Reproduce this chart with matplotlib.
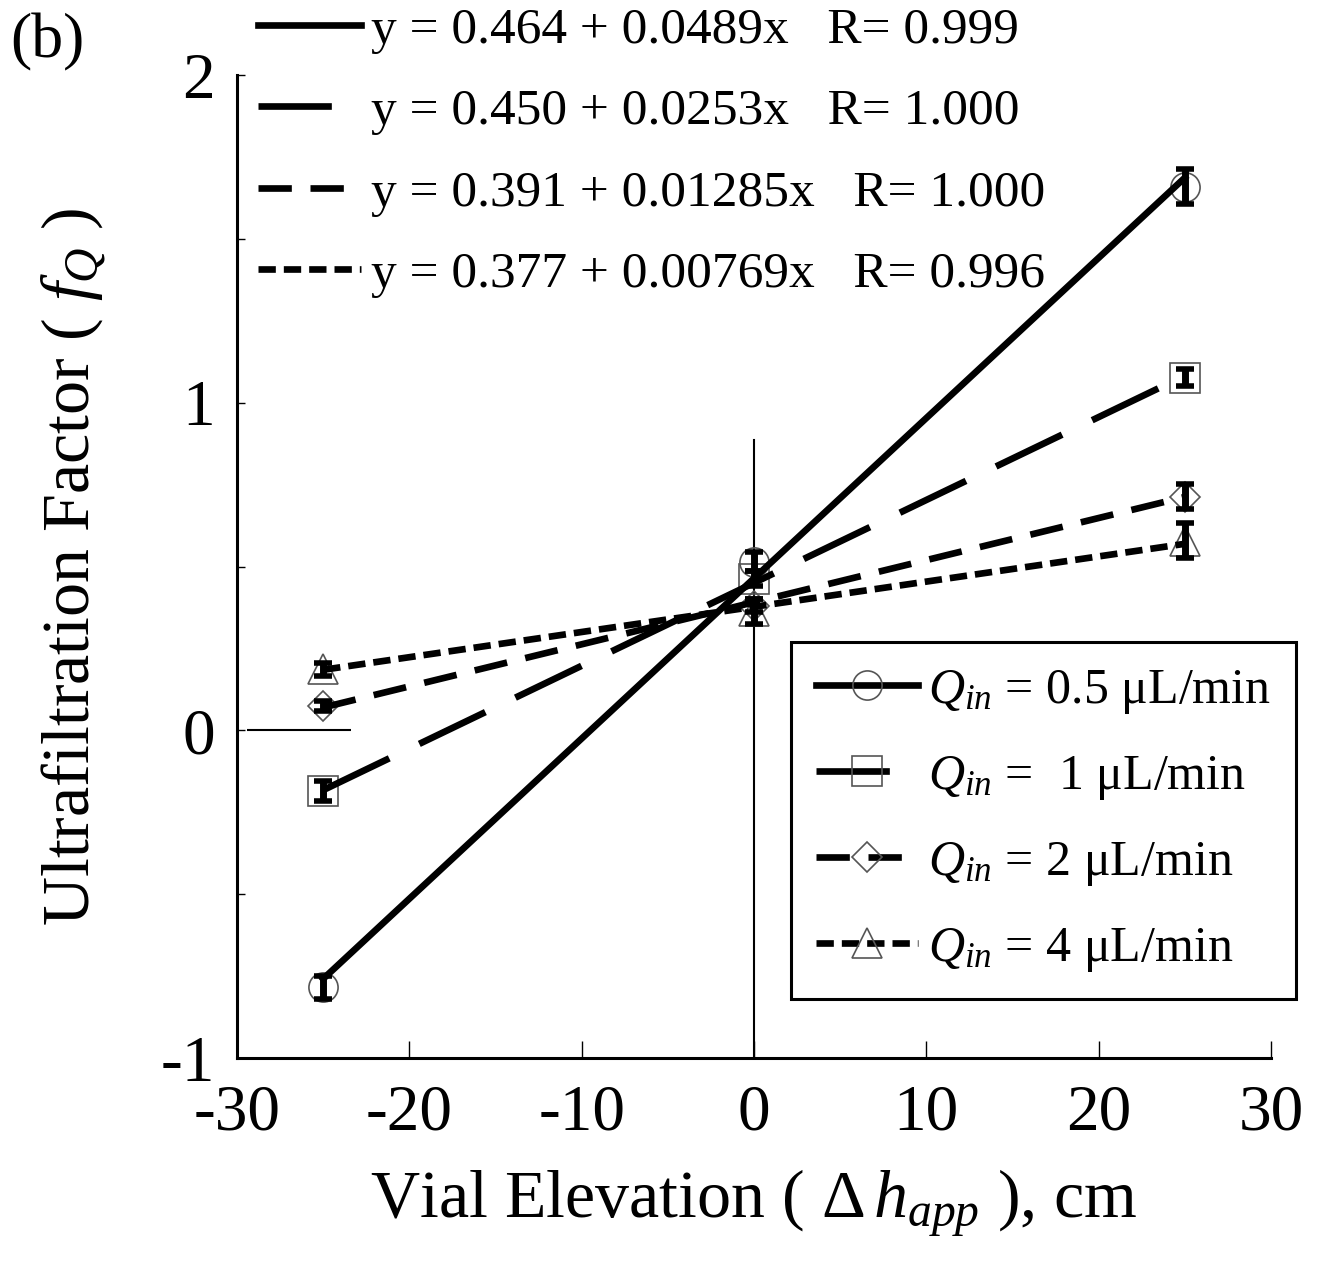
import matplotlib
matplotlib.use("Agg")
import matplotlib.pyplot as plt
from matplotlib.lines import Line2D
import numpy as np

plt.rcParams['font.family'] = ['Liberation Serif', 'DejaVu Serif']
plt.rcParams['mathtext.fontset'] = 'custom'
plt.rcParams['mathtext.rm'] = 'Liberation Serif'
plt.rcParams['mathtext.it'] = 'Liberation Serif:italic'
plt.rcParams['mathtext.bf'] = 'Liberation Serif:bold'
plt.rcParams['axes.unicode_minus'] = False

# Vial elevation (cm) and measured ultrafiltration factors
elevation = [-25, 0, 25]
fq_05 = [-0.784, 0.515, 1.659]
fq_1 = [-0.186, 0.463, 1.076]
fq_2 = [0.073, 0.380, 0.713]
fq_4 = [0.186, 0.363, 0.579]
err_05 = [0.035, 0.030, 0.053]
err_1 = [0.030, 0.022, 0.026]
err_2 = [0.015, 0.020, 0.038]
err_4 = [0.020, 0.038, 0.053]

# Linear fits
intercepts = [0.464, 0.450, 0.391, 0.377]
slopes = [0.0489, 0.0253, 0.01285, 0.00769]
r_values = [0.999, 1.000, 1.000, 0.996]

flow_rates = ['0.5', ' 1', '2', '4']

series = [fq_05, fq_1, fq_2, fq_4]
errors = [err_05, err_1, err_2, err_4]
markers = ['o', 's', 'D', '^']
marker_sizes = [21, 21, 15, 21]
line_styles = ['-', (0, (11, 5)), (0, (5, 2.8)), (0, (2.6, 1.2))]
LW = 4.8

fig = plt.figure(figsize=(13.31, 12.62), dpi=100)
ax = fig.add_axes([237 / 1331, 1 - 1058 / 1262, (1271 - 237) / 1331, (1058 - 75) / 1262])
ax.set_xlim(-30, 30)
ax.set_ylim(-1, 2)
for s in ['top', 'right']:
    ax.spines[s].set_visible(False)
for s in ['left', 'bottom']:
    ax.spines[s].set_linewidth(2.2)

# zero reference lines
ax.axvline(0, ymin=0, ymax=(0.885 + 1) / 3, color='black', lw=1.5, zorder=1)
ax.hlines(0, -29.4, -23.4, color='black', lw=1.5, zorder=1)

xfit = np.array([elevation[0], elevation[-1]], dtype=float)
for vals, err, m, ms, ls, a, b in zip(series, errors, markers, marker_sizes,
                                      line_styles, intercepts, slopes):
    ax.plot(elevation, vals, linestyle='none', marker=m, ms=ms, mfc='none',
            mec='#555555', mew=1.2, zorder=2)
    ax.plot(xfit, a + b * xfit, color='black', lw=LW, linestyle=ls, zorder=3)
    ax.errorbar(elevation, vals, yerr=err, fmt='none', ecolor='black',
                elinewidth=5, capsize=6.5, capthick=4, zorder=4)

ax.set_xticks(range(-30, 31, 10))
ax.set_yticks([-1, 0, 1, 2])
ax.set_yticks([-0.5, 0.5, 1.5], minor=True)
ax.tick_params(axis='x', direction='in', length=12, width=1, labelsize=47, pad=19)
ax.tick_params(axis='y', which='both', direction='in', length=6, width=1,
               labelsize=47, pad=16)

ax.set_xlabel(r"Vial Elevation ( $\Delta\,h_{app}$ ), cm", fontsize=49, labelpad=17)
ax.set_ylabel(r"Ultrafiltration Factor ( $f_{Q}$ )", fontsize=49, labelpad=38)

fig.text(10 / 1331, 1 - 42 / 1262, "(b)", fontsize=46, va='center', ha='left')

# fit equation legend
fit_handles = [Line2D([], [], color='black', lw=LW, linestyle=ls) for ls in line_styles]
fit_labels = [f"y = {a:.3f} + {b}x   R= {r:.3f}" for a, b, r in zip(intercepts, slopes, r_values)]
fig.legend(fit_handles, fit_labels, loc='upper left',
           bbox_to_anchor=(258 / 1331, 1 - 7 / 1262), frameon=False, fontsize=37,
           handlelength=2.0, handletextpad=0.2, labelspacing=0.67,
           borderpad=0, borderaxespad=0)

# flow-rate legend
q_handles = [Line2D([], [], color='black', lw=LW, linestyle=ls, marker=m, ms=ms,
                    mfc='none', mec='#555555', mew=1.2)
             for ls, m, ms in zip(line_styles, markers, marker_sizes)]
q_labels = [rf"$Q_{{in}}$ = {q} μL/min" for q in flow_rates]
leg = fig.legend(q_handles, q_labels, loc='upper left',
                 bbox_to_anchor=(791 / 1331, 1 - 642 / 1262), frameon=True,
                 fancybox=False, edgecolor='black', framealpha=1, fontsize=36,
                 handlelength=2.04, handletextpad=0.2, labelspacing=0.75,
                 borderpad=0.5, borderaxespad=0)
leg.get_frame().set_linewidth(2.2)

fig.savefig("out.png", dpi=100)
